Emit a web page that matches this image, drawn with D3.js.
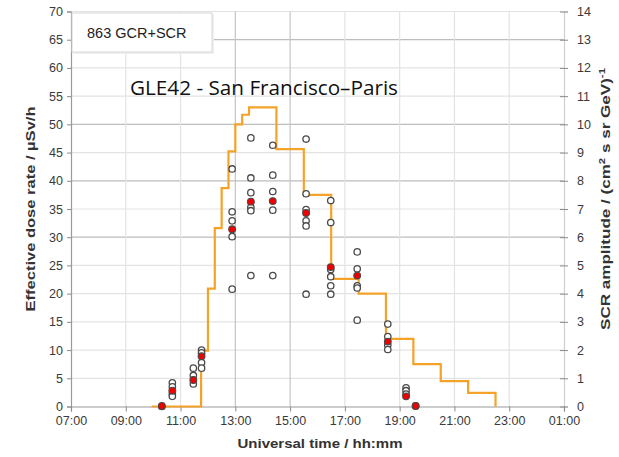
<!DOCTYPE html>
<html>
<head>
<meta charset="utf-8">
<script src="https://cdn.jsdelivr.net/npm/d3@7"></script>
<style>
  html, body { margin: 0; padding: 0; background: #fff; }
  svg { display: block; }
</style>
</head>
<body>
<svg id="chart" width="619" height="457"></svg>
<script>
// ---------- DATA ----------
const xTickLabels = ["07:00","09:00","11:00","13:00","15:00","17:00","19:00","21:00","23:00","01:00"];
const yLeftTicks = [0,5,10,15,20,25,30,35,40,45,50,55,60,65,70];
const yRightTicks = [0,1,2,3,4,5,6,7,8,9,10,11,12,13,14];

// SCR amplitude step curve (right axis units)
const stepTimes  = ["09:57","11:45","12:00","12:15","12:30","12:45","13:00","13:15","13:30","14:30","15:30","16:30","17:30","18:30","19:30","20:30","21:30","22:30"];
const stepValues = [0, 1.98, 4.18, 6.32, 7.74, 9.04, 10.0, 10.34, 10.6, 9.12, 7.5, 4.52, 4.0, 2.4, 1.5, 0.9, 0.48, 0];

// Flight waypoints: individual code results (open) and mean (red), µSv/h
const flightTimes = ["10:19","10:42","11:28","11:46","12:53","13:34","14:22","15:35","16:29","17:27","18:34","19:14","19:35"];
const codeValues = [
  [0.0],
  [4.2, 3.5, 2.2, 1.8],
  [6.8, 5.5, 4.0],
  [10.0, 9.5, 7.8, 6.8],
  [42.1, 34.5, 32.9, 30.1, 20.8],
  [47.6, 40.5, 37.9, 35.3, 34.7, 23.2],
  [46.3, 41.0, 38.1, 34.8, 23.2],
  [47.4, 37.7, 34.9, 32.9, 32.0, 19.9],
  [36.5, 32.6, 24.3, 23.0, 21.4, 19.9],
  [27.4, 24.4, 21.4, 21.0, 15.3],
  [14.6, 12.4, 10.9, 10.1],
  [3.3, 2.8, 2.2],
  [0.1]
];
const meanValues = [0.1, 2.8, 4.7, 8.9, 31.4, 36.3, 36.4, 34.3, 24.7, 23.2, 11.5, 1.8, 0.1];

const legendLabel = "863 GCR+SCR";
const titleText = "GLE42 - San Francisco\u2013Paris";
const xTitle = "Universal time / hh:mm";
const yLeftTitle = "Effective dose rate / \u00b5Sv/h";

// ---------- HELPERS ----------
function toHours(s) {
  const [h, m] = s.split(":").map(Number);
  let v = h + m / 60;
  if (v < 7) v += 24;
  return v;
}

// ---------- SCALES ----------
const svg = d3.select("#chart");
const L = 71, R = 564, T = 11.5, B = 406.5;
const x = d3.scaleLinear().domain([7, 25]).range([L, R]);
const yL = d3.scaleLinear().domain([0, 70]).range([B, T]);
const yR = d3.scaleLinear().domain([0, 14]).range([B, T]);
const xTickValues = xTickLabels.map(toHours);

svg.append("rect").attr("width", 619).attr("height", 457).attr("fill", "#fff");

// ---------- GRID ----------
const darkH = new Set([30, 40, 50, 65]);
svg.append("g").selectAll("line").data(yLeftTicks.filter(d => d > 0)).join("line")
  .attr("x1", L).attr("x2", R)
  .attr("y1", d => yL(d)).attr("y2", d => yL(d))
  .attr("stroke", d => darkH.has(d) ? "#bdbdbd" : "#e3e3e3")
  .attr("stroke-width", 1.2);

const darkV = new Set([13, 15]);
svg.append("g").selectAll("line").data(xTickValues.filter(d => d > 7 && d < 25)).join("line")
  .attr("x1", d => x(d)).attr("x2", d => x(d))
  .attr("y1", T).attr("y2", B)
  .attr("stroke", d => darkV.has(d) ? "#c4c4c4" : "#e3e3e3")
  .attr("stroke-width", 1.2);

// ---------- AXES ----------
const axisFont = "Liberation Sans, Arial, sans-serif";

const gL = svg.append("g").attr("transform", `translate(${L},0)`)
  .call(d3.axisLeft(yL).tickValues(yLeftTicks).tickSize(4).tickPadding(4).tickFormat(d3.format("d")));
const gR = svg.append("g").attr("transform", `translate(${R},0)`)
  .call(d3.axisRight(yR).tickValues(yRightTicks).tickSize(4).tickPadding(9).tickFormat(d3.format("d")));
gR.selectAll(".tick line").attr("x1", -4);
const gB = svg.append("g").attr("transform", `translate(0,${B})`)
  .call(d3.axisBottom(x).tickValues(xTickValues).tickSize(5).tickPadding(5)
    .tickFormat((d, i) => xTickLabels[i]));

[gL, gR, gB].forEach(g => {
  g.select(".domain").attr("stroke", "#9a9a9a").attr("stroke-width", 1.2);
  g.selectAll(".tick line").attr("stroke", "#8a8a8a");
  g.selectAll(".tick text").attr("fill", "#3a3a3a").style("font-family", axisFont).style("font-size", "12.5px");
});
gR.select(".domain").attr("stroke", "#cfcfcf");

// ---------- STEP LINE ----------
const stepData = stepTimes.map((t, i) => ({ t: toHours(t), v: stepValues[i] }));
svg.append("path").datum(stepData)
  .attr("fill", "none")
  .attr("stroke", "#F5A328")
  .attr("stroke-width", 2.2)
  .attr("d", d3.line().x(d => x(d.t)).y(d => yR(d.v)).curve(d3.curveStepAfter));

// ---------- POINTS ----------
const openPts = [];
flightTimes.forEach((t, i) => codeValues[i].forEach(v => openPts.push({ t: toHours(t), v })));
svg.append("g").selectAll("circle").data(openPts).join("circle")
  .attr("cx", d => x(d.t)).attr("cy", d => yL(d.v)).attr("r", 3.2)
  .attr("fill", "#fff").attr("stroke", "#4a4a4a").attr("stroke-width", 1.3);

const meanPts = flightTimes.map((t, i) => ({ t: toHours(t), v: meanValues[i] }));
svg.append("g").selectAll("circle").data(meanPts).join("circle")
  .attr("cx", d => x(d.t)).attr("cy", d => yL(d.v)).attr("r", 3.4)
  .attr("fill", "#f00000").attr("stroke", "#4a4a4a").attr("stroke-width", 1.1);

// ---------- LEGEND BOX ----------
svg.append("rect").attr("x", 73).attr("y", 14).attr("width", 141).attr("height", 40)
  .attr("fill", "#f0f0f0");
svg.append("rect").attr("x", 72).attr("y", 13).attr("width", 140).attr("height", 39)
  .attr("fill", "#fff").attr("stroke", "#d6d6d6");
svg.append("text").attr("x", 87).attr("y", 38)
  .style("font-family", axisFont).style("font-size", "14.5px").attr("fill", "#222")
  .text(legendLabel);

// ---------- TITLES ----------
svg.append("text").attr("x", 130).attr("y", 95)
  .attr("textLength", 268).attr("lengthAdjust", "spacingAndGlyphs")
  .style("font-family", "'Open Sans', 'Noto Sans', sans-serif").style("font-size", "20px").attr("fill", "#111")
  .text(titleText);

svg.append("text").attr("x", 320).attr("y", 448).attr("text-anchor", "middle")
  .attr("textLength", 165).attr("lengthAdjust", "spacingAndGlyphs")
  .style("font-family", axisFont).style("font-size", "13.5px").style("font-weight", "bold").attr("fill", "#333")
  .text(xTitle);

svg.append("text").attr("transform", "translate(35,209) rotate(-90)").attr("text-anchor", "middle")
  .attr("textLength", 205).attr("lengthAdjust", "spacingAndGlyphs")
  .style("font-family", axisFont).style("font-size", "13.5px").style("font-weight", "bold").attr("fill", "#333")
  .text(yLeftTitle);

const rt = svg.append("text").attr("transform", "translate(610,199) rotate(-90)").attr("text-anchor", "middle")
  .attr("textLength", 262).attr("lengthAdjust", "spacingAndGlyphs")
  .style("font-family", axisFont).style("font-size", "13.5px").style("font-weight", "bold").attr("fill", "#333");
rt.append("tspan").text("SCR amplitude  /  (cm");
rt.append("tspan").attr("dy", -5).style("font-size", "9px").text("2");
rt.append("tspan").attr("dy", 5).text(" s sr GeV)");
rt.append("tspan").attr("dy", -5).style("font-size", "9px").text("-1");
</script>
</body>
</html>
